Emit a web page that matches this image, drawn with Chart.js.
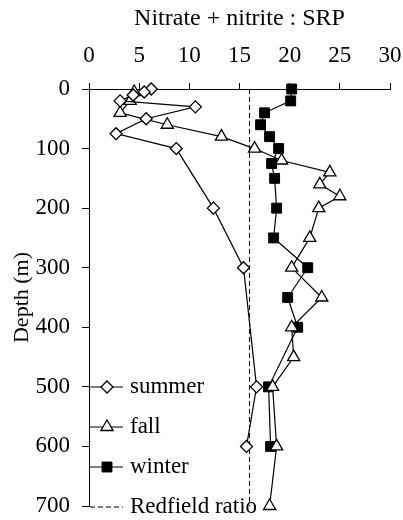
<!DOCTYPE html>
<html>
<head>
<meta charset="utf-8">
<script src="https://cdn.jsdelivr.net/npm/chart.js@4.4.1/dist/chart.umd.min.js"></script>
<style>
  body { margin: 0; background: #fff; }
  #wrap { width: 403px; height: 520px; }
</style>
</head>
<body>
<div id="wrap"><canvas id="Chart"></canvas></div>
<script>
// depth (m) and nitrate+nitrite : SRP ratio for each season
var summerDepth = [0, 5, 10, 20, 30, 50, 75, 100, 200, 300, 500, 600];
var summerRatio = [6.2, 5.5, 4.4, 3.1, 10.6, 5.7, 2.7, 8.7, 12.4, 15.4, 16.7, 15.7];

var fallDepth = [5, 20, 40, 60, 80, 100, 120, 140, 160, 180, 200, 250, 300, 350, 400, 450, 500, 600, 700];
var fallRatio = [4.5, 4.1, 3.1, 7.8, 13.2, 16.5, 19.2, 24.0, 23.0, 25.0, 22.9, 22.0, 20.2, 23.2, 20.2, 20.4, 18.3, 18.7, 18.0];

var winterDepth = [0, 20, 40, 60, 80, 100, 125, 150, 200, 250, 300, 350, 400, 500, 600];
var winterRatio = [20.2, 20.1, 17.5, 17.1, 18.0, 18.9, 18.2, 18.5, 18.7, 18.4, 21.8, 19.8, 20.8, 17.9, 18.1];

var redfieldRatio = 16;
var depthRange = [0, 700];

var ratioTicks = [0, 5, 10, 15, 20, 25, 30];
var depthTicks = [0, 100, 200, 300, 400, 500, 600, 700];

var seriesNames = ["summer", "fall", "winter", "Redfield ratio"];

function toPoints(xs, ys) {
    return xs.map(function (x, i) {
        return { x: x, y: ys[i] };
    });
}

var serif = "'Liberation Serif', 'Times New Roman', serif";

// legend drawn inside the plot, lower left
var insideLegend = {
    id: "insideLegend",
    afterDraw: function (chart) {
        var ctx = chart.ctx;
        var x0 = 90, x1 = 123, xm = 107, xt = 130;
        var rows = [387, 427, 467, 507];
        ctx.save();
        ctx.font = "23px " + serif;
        ctx.textAlign = "left";
        ctx.textBaseline = "alphabetic";
        chart.data.datasets.forEach(function (ds, i) {
            var y = rows[i];
            ctx.beginPath();
            ctx.lineWidth = 1.2;
            ctx.strokeStyle = "#000";
            ctx.setLineDash(ds.borderDash || []);
            ctx.moveTo(x0, y);
            ctx.lineTo(x1, y);
            ctx.stroke();
            ctx.setLineDash([]);
            if (ds.pointRadius > 0) {
                ctx.fillStyle = ds.pointBackgroundColor;
                ctx.strokeStyle = "#000";
                ctx.lineWidth = ds.pointBorderWidth;
                Chart.helpers.drawPoint(ctx, {
                    pointStyle: ds.pointStyle,
                    radius: ds.pointRadius,
                    borderWidth: ds.pointBorderWidth,
                    rotation: 0,
                }, xm, y);
            }
            ctx.fillStyle = "#000";
            ctx.fillText(ds.label, xt, y + 6);
        });
        ctx.restore();
    },
};

var ctx = document.getElementById("Chart").getContext("2d");

var chart = new Chart(ctx, {
    type: "scatter",
    data: {
        datasets: [
            {
                label: seriesNames[0],
                data: toPoints(summerRatio, summerDepth),
                showLine: true,
                clip: false,
                borderColor: "#000",
                borderWidth: 1.2,
                pointStyle: "rectRot",
                pointRadius: 6,
                pointBackgroundColor: "#fff",
                pointBorderColor: "#000",
                pointBorderWidth: 1.3,
            },
            {
                label: seriesNames[1],
                data: toPoints(fallRatio, fallDepth),
                showLine: true,
                clip: false,
                borderColor: "#000",
                borderWidth: 1.2,
                pointStyle: "triangle",
                pointRadius: 7,
                pointBackgroundColor: "#fff",
                pointBorderColor: "#000",
                pointBorderWidth: 1.3,
            },
            {
                label: seriesNames[2],
                data: toPoints(winterRatio, winterDepth),
                showLine: true,
                clip: false,
                borderColor: "#000",
                borderWidth: 1.2,
                pointStyle: "rect",
                pointRadius: 7,
                pointBackgroundColor: "#000",
                pointBorderColor: "#000",
                pointBorderWidth: 1,
            },
            {
                label: seriesNames[3],
                data: depthRange.map(function (d) { return { x: redfieldRatio, y: d }; }),
                showLine: true,
                borderColor: "#000",
                borderWidth: 1,
                borderDash: [5, 3],
                pointRadius: 0,
            },
        ],
    },
    options: {
        responsive: true,
        maintainAspectRatio: false,
        animation: false,
        layout: {
            padding: 0,
        },
        scales: {
            x: {
                type: "linear",
                position: "top",
                min: ratioTicks[0],
                max: ratioTicks[ratioTicks.length - 1],
                afterBuildTicks: function (axis) {
                    axis.ticks = ratioTicks.map(function (v) { return { value: v }; });
                },
                afterFit: function (axis) {
                    axis.height = 89;
                    axis.paddingLeft = 0;
                    axis.paddingRight = 13;
                },
                ticks: {
                    color: "#000",
                    font: { family: serif, size: 23 },
                    padding: 13,
                    maxRotation: 0,
                },
                grid: {
                    drawOnChartArea: false,
                    drawTicks: true,
                    tickLength: 6,
                    color: "#000",
                },
                border: { color: "#000", width: 1 },
                title: {
                    display: true,
                    text: "Nitrate + nitrite : SRP",
                    color: "#000",
                    font: { family: serif, size: 24 },
                    padding: { top: 4, bottom: 2 },
                },
            },
            y: {
                type: "linear",
                reverse: true,
                min: depthTicks[0],
                max: depthTicks[depthTicks.length - 1],
                afterBuildTicks: function (axis) {
                    axis.ticks = depthTicks.map(function (v) { return { value: v }; });
                },
                afterFit: function (axis) {
                    axis.width = 89;
                    axis.paddingTop = 0;
                    axis.paddingBottom = 14;
                },
                ticks: {
                    color: "#000",
                    font: { family: serif, size: 23 },
                    padding: 12,
                },
                grid: {
                    drawOnChartArea: false,
                    drawTicks: true,
                    tickLength: 7,
                    color: "#000",
                },
                border: { color: "#000", width: 1 },
                title: {
                    display: true,
                    text: "Depth (m)",
                    color: "#000",
                    font: { family: serif, size: 22 },
                    padding: { top: 9, bottom: 0 },
                },
            },
        },
        plugins: {
            legend: { display: false },
            tooltip: { enabled: false },
        },
    },
    plugins: [insideLegend],
});
</script>
</body>
</html>
